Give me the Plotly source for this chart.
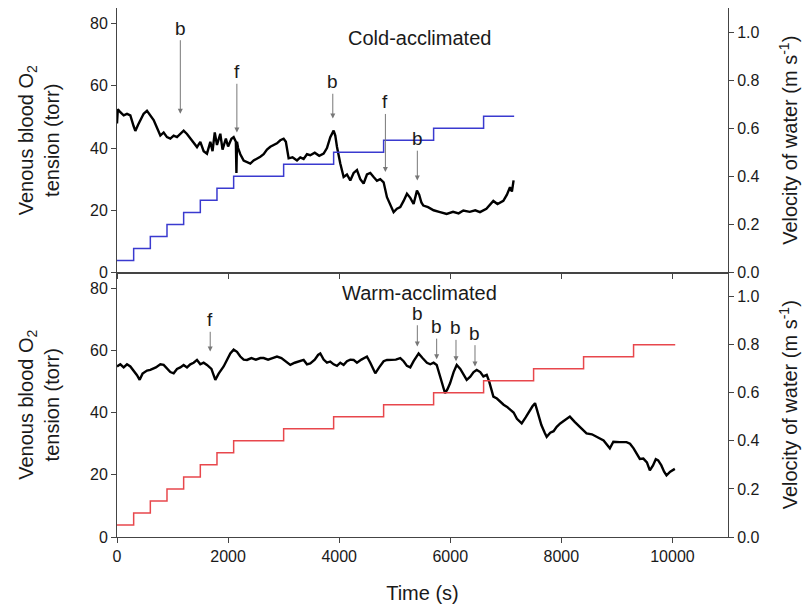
import plotly.graph_objects as go

# ---------------- data ----------------
cold_time = [0, 15, 60, 120, 180, 240, 300, 330, 380, 430, 480, 540, 600, 660, 720, 780, 840, 900, 960, 1020,
             1080, 1140, 1200, 1260, 1320, 1380, 1440, 1500, 1560, 1620, 1680, 1720, 1760, 1800, 1860, 1900,
             1960, 2000, 2060, 2100, 2140, 2150, 2160, 2180, 2220, 2280, 2340, 2400, 2460, 2520, 2580, 2640,
             2700, 2760, 2820, 2880, 2940, 3000, 3040, 3090, 3160, 3240, 3300, 3360, 3420, 3480, 3560, 3640,
             3720, 3780, 3840, 3900, 3930, 3960, 4020, 4080, 4140, 4200, 4260, 4320, 4380, 4440, 4500, 4560,
             4620, 4680, 4740, 4800, 4860, 4920, 4980, 5040, 5100, 5160, 5220, 5280, 5340, 5400, 5440, 5480,
             5515, 5600, 5700, 5800, 5935, 6050, 6150, 6235, 6350, 6450, 6535, 6650, 6775, 6850, 6955, 7020,
             7075, 7110, 7140]
cold_po2 = [47.9, 52.5, 51.5, 50.5, 51, 50.5, 47, 45.5, 47.5, 49.5, 51, 52, 50.5, 49, 46.5, 44, 45, 43.5, 43, 44,
            43.5, 44.5, 45.6, 44.5, 43, 41.5, 40.3, 42, 39, 38.2, 42, 39, 45, 41, 44.6, 39.5,
            43, 40.5, 43, 43.5, 42, 32, 42, 40, 38, 36, 35.5, 35, 36, 36.5, 37.2, 38,
            39.5, 40.4, 41, 41.5, 42.5, 43, 42, 36.7, 37, 36, 37, 36.5, 38, 37.7, 38.5, 37.5,
            38.2, 40, 43.5, 45.6, 44, 40.4, 35, 30.7, 31.5, 29.6, 32, 32.9, 30, 28.6, 31.5, 32,
            30.7, 29.5, 30, 29, 24.2, 21.5, 19.4, 20.5, 21, 23, 25.3, 24, 22, 26.3, 25, 22.5,
            21.5, 21, 20, 19.5, 18.8, 19.5, 19, 19.9, 19.5, 20, 19.4, 20.5, 23, 22, 23, 25,
            27.4, 26, 29.6]

cold_vel_time = [0, 300, 600, 900, 1200, 1500, 1800, 2100, 3000, 3900, 4800, 5700, 6600, 7150]
cold_vel = [0.05, 0.10, 0.15, 0.20, 0.25, 0.30, 0.35, 0.40, 0.45, 0.50, 0.55, 0.60, 0.65, 0.65]

warm_time = [0, 60, 120, 180, 240, 300, 360, 408, 460, 540, 600, 700, 780, 840, 900, 960, 1020, 1080, 1140,
             1200, 1260, 1320, 1380, 1440, 1500, 1560, 1620, 1700, 1770, 1830, 1920, 1980, 2040, 2100, 2160,
             2220, 2280, 2340, 2420, 2500, 2580, 2640, 2720, 2800, 2880, 2960, 3040, 3120, 3200, 3280, 3360,
             3420, 3480, 3560, 3620, 3660, 3720, 3780, 3840, 3900, 3960, 4020, 4080, 4140, 4200, 4260, 4320,
             4400, 4500, 4560, 4620, 4650, 4720, 4800, 4860, 4940, 5020, 5100, 5160, 5220, 5280, 5340, 5400,
             5430, 5500, 5580, 5640, 5700, 5756, 5820, 5880, 5906, 5950, 5996, 6060, 6116, 6180, 6240, 6296,
             6360, 6420, 6476, 6540, 6596, 6656, 6700, 6776, 6840, 6900, 6960, 7016, 7080, 7140, 7200, 7286,
             7360, 7420, 7480, 7526, 7580, 7640, 7700, 7736, 7800, 7860, 7916, 7980, 8060, 8153, 8240, 8336,
             8453, 8550, 8636, 8760, 8873, 8936, 9050, 9173, 9236, 9300, 9413, 9476, 9540, 9593, 9650, 9700,
             9743, 9800, 9850, 9893, 9960, 10043]
warm_po2 = [54.8, 55.5, 54.5, 55.5, 54.8, 53.5, 52, 50.5, 52.5, 53.5, 53.7, 54.5, 55.5, 55.3, 54, 53, 52.6, 54, 54.5,
            55.3, 54.5, 55.5, 56, 56.9, 55.5, 56, 55.3, 54, 50.5, 52.5, 54.8, 57, 59, 60.2, 59.5,
            58, 57, 56.9, 57.5, 57, 57.5, 57.5, 57, 57.5, 58, 57.5, 56.5, 55.3, 56, 56.5, 56.9,
            55.5, 55.8, 57, 58.5, 59, 57, 56, 56.4, 55.5, 55, 56, 55.3, 56.5, 57, 56.9, 56,
            57, 58, 56, 54, 52.6, 54.5, 56.5, 56.9, 57, 57, 57.5, 56.5, 55, 54.5, 56.5, 58.5,
            59, 57.5, 56, 55.5, 56, 55.3, 51.5, 47.5, 46.2, 47.5, 49.4, 53, 55.3, 54, 52, 50.5,
            51.5, 53, 53.7, 53, 51.6, 52.1, 50, 45.1, 44.5, 43.5, 42.5, 41.9, 41, 40, 38, 36.5,
            38.5, 40.5, 42, 43, 40, 36, 33.5, 32.2, 33.5, 34, 35.4, 36.5, 37.5, 38.7, 37, 35.4,
            33.3, 33, 32.2, 31, 28.5, 30.6, 30.5, 30.5, 30, 28.5, 25.1, 25.2, 24, 21.4, 23, 25,
            24.6, 23, 21, 19.8, 21, 21.9]

warm_vel_time = [0, 300, 600, 900, 1200, 1500, 1800, 2100, 3000, 3900, 4800, 5700, 6600, 7500, 8400, 9300, 10050]
warm_vel = [0.05, 0.10, 0.15, 0.20, 0.25, 0.30, 0.35, 0.40, 0.45, 0.50, 0.55, 0.60, 0.65, 0.70, 0.75, 0.80, 0.80]

# event markers: (label, time, text level, arrow tip level)
cold_events = [("b", 1140, 78.5, 51), ("f", 2158, 64.5, 45), ("b", 3885, 61.3, 49.5),
               ("f", 4832, 54.8, 32.3), ("b", 5407, 43, 29.6)]
warm_events = [("f", 1678, 69.8, 59.6), ("b", 5407, 71.9, 61.2), ("b", 5755, 67.6, 57.1),
               ("b", 6103, 67.2, 56.5), ("b", 6445, 65.5, 54.8)]

left_ticks = [0, 20, 40, 60, 80]
right_ticks = [0.0, 0.2, 0.4, 0.6, 0.8, 1.0]
x_ticks = [0, 2000, 4000, 6000, 8000, 10000]

FONT = "Liberation Sans, Arial, sans-serif"
AX = "#444444"
TXT = "#1a1a1a"

fig = go.Figure()
fig.add_trace(go.Scatter(x=cold_vel_time, y=cold_vel, mode="lines", line=dict(color="#3a3acf", width=1.5, shape="hv"),
                         xaxis="x", yaxis="y2", showlegend=False))
fig.add_trace(go.Scatter(x=cold_time, y=cold_po2, mode="lines", line=dict(color="black", width=2.4),
                         xaxis="x", yaxis="y", showlegend=False))
fig.add_trace(go.Scatter(x=warm_vel_time, y=warm_vel, mode="lines", line=dict(color="#e8474c", width=1.5, shape="hv"),
                         xaxis="x2", yaxis="y4", showlegend=False))
fig.add_trace(go.Scatter(x=warm_time, y=warm_po2, mode="lines", line=dict(color="black", width=2.4),
                         xaxis="x2", yaxis="y3", showlegend=False))

annots = []
for lab, t, ytxt, ytip in cold_events:
    annots.append(dict(x=t, y=ytip, ax=t, ay=ytxt, xref="x", yref="y", axref="x", ayref="y", text=lab,
                       showarrow=True, arrowhead=2, arrowsize=1, arrowwidth=1, arrowcolor="#777777",
                       font=dict(size=19, color=TXT, family=FONT)))
for lab, t, ytxt, ytip in warm_events:
    annots.append(dict(x=t, y=ytip, ax=t, ay=ytxt, xref="x2", yref="y3", axref="x2", ayref="y3", text=lab,
                       showarrow=True, arrowhead=2, arrowsize=1, arrowwidth=1, arrowcolor="#777777",
                       font=dict(size=19, color=TXT, family=FONT)))
annots.append(dict(x=5440, y=75.5, xref="x", yref="y", text="Cold-acclimated", showarrow=False,
                   font=dict(size=20, color=TXT, family=FONT)))
annots.append(dict(x=5440, y=78.5, xref="x2", yref="y3", text="Warm-acclimated", showarrow=False,
                   font=dict(size=20, color=TXT, family=FONT)))

common_x = dict(range=[0, 11000], tickvals=x_ticks, tickformat="d", ticks="outside", ticklen=5, tickcolor=AX,
                showline=True, linecolor=AX, linewidth=1, showgrid=False, zeroline=False, automargin=False,
                tickfont=dict(size=16, color=TXT, family=FONT))
left_y = dict(range=[0, 85], tickvals=left_ticks, ticks="outside", ticklen=5, tickcolor=AX,
              showline=True, linecolor=AX, linewidth=1, showgrid=False, zeroline=False, automargin=False,
              tickfont=dict(size=16, color=TXT, family=FONT),
              title=dict(text="Venous blood O<sub>2</sub><br>tension (torr)", font=dict(size=20, color=TXT, family=FONT), standoff=25))
right_y = dict(range=[0, 1.1], tickvals=right_ticks, tickformat=".1f", ticks="outside", ticklen=5, tickcolor=AX,
               showline=True, linecolor=AX, linewidth=1, showgrid=False, zeroline=False, side="right", automargin=False,
               tickfont=dict(size=16, color=TXT, family=FONT),
               title=dict(text="Velocity of water (m s<sup>-1</sup>)", font=dict(size=20, color=TXT, family=FONT), standoff=24))

# page body has an 8px margin: size figure to fit the window and offset margins accordingly
fig.update_layout(
    width=795, height=597,
    margin=dict(l=109, r=75, t=0, b=68),
    paper_bgcolor="white", plot_bgcolor="white",
    font=dict(family=FONT, color=TXT),
    xaxis=dict(common_x, domain=[0, 1], anchor="y", showticklabels=False, mirror=True),
    xaxis2=dict(common_x, domain=[0, 1], anchor="y3", matches="x", mirror=True,
                title=dict(text="Time (s)", font=dict(size=20, color=TXT, family=FONT), standoff=21)),
    yaxis=dict(left_y, domain=[0.5, 1], anchor="x"),
    yaxis2=dict(right_y, overlaying="y", anchor="x"),
    yaxis3=dict(left_y, domain=[0, 0.5], anchor="x2"),
    yaxis4=dict(right_y, overlaying="y3", anchor="x2"),
    annotations=annots,
)

fig.write_html("out.html")
